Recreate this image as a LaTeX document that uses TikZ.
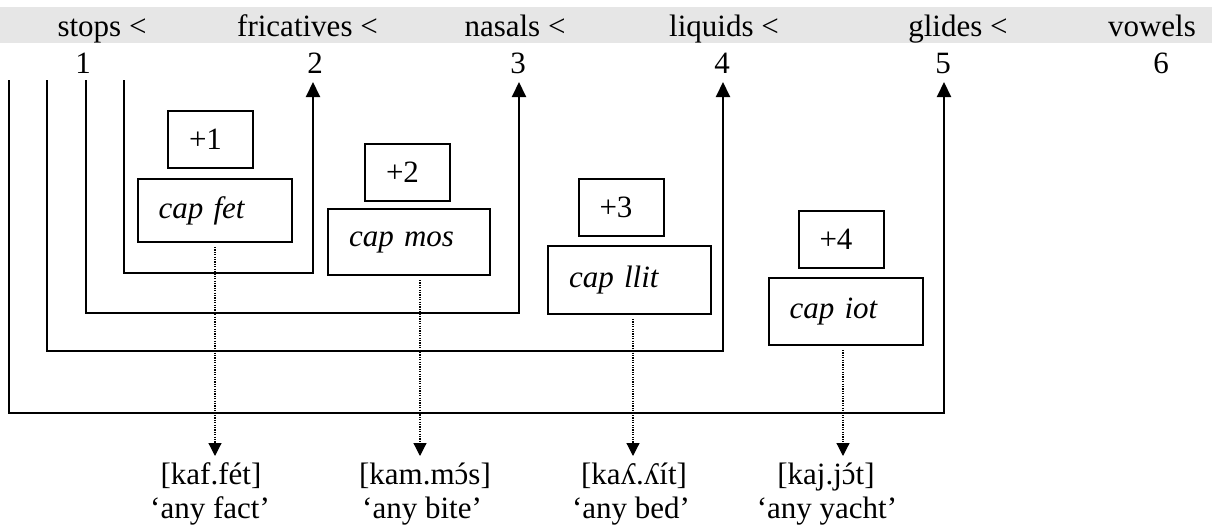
\documentclass[tikz,border=0pt]{standalone}
\usepackage{fontspec}
\setmainfont{Liberation Serif}
\usetikzlibrary{arrows.meta}
\definecolor{band}{RGB}{230,230,230}
\newcommand{\acuteo}{{\ooalign{ɔ\cr\hidewidth ´\hidewidth\cr}}}
\begin{document}
\begin{tikzpicture}[x=0.5pt,y=-0.5pt,
  font=\fontsize{15.5}{18}\selectfont,
  lbl/.style={anchor=base, inner sep=0pt},
  bracket/.style={line width=1pt, -{Triangle[width=7pt,length=7.5pt]}},
  dotarr/.style={line width=0.6pt, dash pattern=on 0.6pt off 0.6pt, shorten <=2pt, -{Triangle[width=6.5pt,length=6.5pt]}},
  plusbox/.style={draw, line width=1pt, inner xsep=10.5pt, inner ysep=0pt, text width=21.5pt, align=left, minimum height=28.5pt},
  capbox/.style={draw, line width=1pt, inner xsep=10.5pt, inner ysep=0pt, align=left, font=\fontsize{15.5}{18}\selectfont\itshape}
]
\useasboundingbox (0,0) rectangle (1212,530);
\fill[white] (0,0) rectangle (1212,530);
\fill[band] (0,7) rectangle (1212,43);

% header labels
\node[lbl] (h1) at (102,36) {stops <};
\node[lbl] (h2) at (307.5,36) {fricatives <};
\node[lbl] (h3) at (515,36) {nasals <};
\node[lbl] (h4) at (724,36) {liquids <};
\node[lbl] (h5) at (958,36) {glides <};
\node[lbl] (h6) at (1152,36) {vowels};

% numbers
\node[lbl] (n1) at (83,73) {1};
\node[lbl] (n2) at (315,73) {2};
\node[lbl] (n3) at (518,73) {3};
\node[lbl] (n4) at (722,73) {4};
\node[lbl] (n5) at (943,73) {5};
\node[lbl] (n6) at (1161,73) {6};

% bracket coordinates
\coordinate (s1) at (124,80);  \coordinate (c1) at (124,273); \coordinate (t2) at (313,82);
\coordinate (s2) at (86,80);   \coordinate (c2) at (86,313);  \coordinate (t3) at (519,82);
\coordinate (s3) at (47,80);   \coordinate (c3) at (47,351);  \coordinate (t4) at (723,82);
\coordinate (s4) at (9,80);    \coordinate (c4) at (9,413);   \coordinate (t5) at (944,82);

\draw[bracket] (s1) -- (c1) -| (t2);
\draw[bracket] (s2) -- (c2) -| (t3);
\draw[bracket] (s3) -- (c3) -| (t4);
\draw[bracket] (s4) -- (c4) -| (t5);

% boxes
\node[plusbox] (p1) at (210.5,139.5) {+1};
\node[capbox, text width=56pt, minimum height=31.5pt] (fet) at (214.5,210.5) {cap fet};
\node[plusbox] (p2) at (407.5,172) {+2};
\node[capbox, text width=60pt, minimum height=33pt] (mos) at (409,242) {cap mos};
\node[plusbox] (p3) at (621,207.5) {+3};
\node[capbox, text width=60.5pt, minimum height=34pt] (llit) at (629.5,280) {cap llit};
\node[plusbox] (p4) at (841,239) {+4};
\node[capbox, text width=56pt, minimum height=33.5pt] (iot) at (845.5,311.5) {cap iot};

% bottom forms
\node[lbl] (ipa1) at (211,484) {[kaf.fét]};
\node[lbl] (gl1) at (210,518) {‘any fact’};
\node[lbl] (ipa2) at (425,484) {[kam.m\acuteo s]};
\node[lbl] (gl2) at (422,518) {‘any bite’};
\node[lbl] (ipa3) at (634,484) {[kaʎ.ʎít]};
\node[lbl] (gl3) at (631,518) {‘any bed’};
\node[lbl] (ipa4) at (826,484) {[kaj.j\acuteo t]};
\node[lbl] (gl4) at (827,518) {‘any yacht’};

% dotted arrows
\coordinate (e1) at (215,456);
\coordinate (e2) at (420,456);
\coordinate (e3) at (633,456);
\coordinate (e4) at (843,456);
\draw[dotarr] (fet.south -| e1) -- (e1);
\draw[dotarr] (mos.south -| e2) -- (e2);
\draw[dotarr] (llit.south -| e3) -- (e3);
\draw[dotarr] (iot.south -| e4) -- (e4);
\end{tikzpicture}
\end{document}
